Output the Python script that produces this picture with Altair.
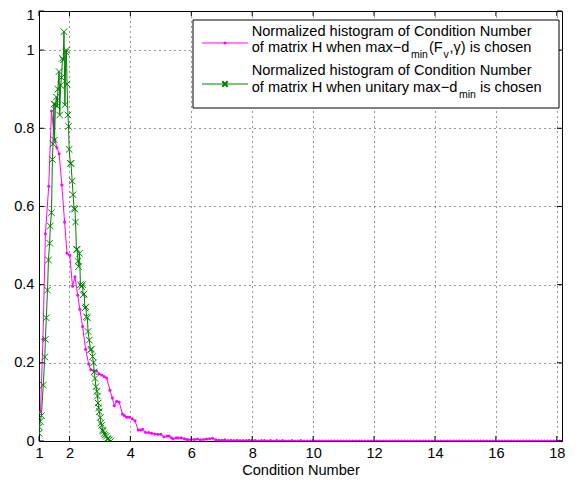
import altair as alt
import pandas as pd

# ---------------- data ----------------
mag_x = [1.05, 1.13, 1.21, 1.32, 1.41, 1.52, 1.59, 1.66, 1.75, 1.84, 1.92, 2.01, 2.10, 2.18,
         2.27, 2.34, 2.43, 2.53, 2.63, 2.70, 2.80, 2.89, 2.97, 3.06, 3.14, 3.22, 3.33, 3.41,
         3.47, 3.55, 3.63, 3.74, 3.80, 3.88, 3.97, 4.06, 4.15, 4.26, 4.33, 4.40, 4.50, 4.60,
         4.70, 4.80, 4.90, 5.00, 5.10, 5.20, 5.27, 5.35, 5.40, 5.50, 5.57, 5.67, 5.77, 5.85,
         5.90, 6.00, 6.10]
mag_y = [0.075, 0.26, 0.53, 0.652, 0.844, 0.77, 0.75, 0.735, 0.655, 0.56, 0.48, 0.475, 0.396, 0.42,
         0.373, 0.337, 0.293, 0.235, 0.197, 0.182, 0.18, 0.179, 0.172, 0.169, 0.165, 0.161, 0.13, 0.11,
         0.09, 0.102, 0.10, 0.069, 0.065, 0.061, 0.061, 0.057, 0.052, 0.028, 0.028, 0.030, 0.022, 0.022,
         0.020, 0.018, 0.017, 0.017, 0.011, 0.013, 0.013, 0.008, 0.005, 0.008, 0.008, 0.008, 0.006, 0.004,
         0.003, 0.004, 0.004]

tail_x = [6.2, 6.3, 6.4, 6.5, 6.6, 6.7, 6.8, 6.9, 7.0, 7.1, 7.2, 7.3, 7.4, 7.5, 7.6, 7.7, 7.8, 7.9,
          8.0, 8.1, 8.2, 8.3, 8.4, 8.5, 8.6, 8.7, 8.8, 8.9, 9.0, 9.1, 9.2, 9.3, 9.4, 9.5, 9.6, 9.7,
          9.8, 9.9, 10.0, 10.1, 10.2, 10.3, 10.4, 10.5, 10.6, 10.7, 10.8, 10.9, 11.0, 11.1, 11.2, 11.3,
          11.4, 11.5, 11.6, 11.7, 11.8, 11.9, 12.0, 12.1, 12.2, 12.3, 12.4, 12.5, 12.6, 12.7, 12.8,
          12.9, 13.0, 13.1, 13.2, 13.3, 13.4, 13.5, 13.6, 13.7, 13.8, 13.9, 14.0, 14.1, 14.2, 14.3,
          14.4, 14.5, 14.6, 14.7, 14.8, 14.9, 15.0, 15.1, 15.2, 15.3, 15.4, 15.5, 15.6, 15.7, 15.8,
          15.9, 16.0, 16.1, 16.2, 16.3, 16.4, 16.5, 16.6, 16.7, 16.8, 16.9, 17.0, 17.1, 17.2, 17.3,
          17.4, 17.5, 17.6, 17.7, 17.8, 17.9, 18.0, 18.1, 18.2]
tail_y = [0.005, 0.003, 0.004, 0.005, 0.006, 0.007, 0.003, 0.002, 0.002, 0.003, 0.001, 0.002, 0.001,
          0.002, 0.001, 0.001, 0.001, 0.002, 0.001, 0.001, 0.0, 0.001, 0.001, 0.0, 0.001, 0.0, 0.001,
          0.0, 0.001, 0.0, 0.0, 0.001, 0.0, 0.0, 0.001, 0.0, 0.0, 0.0, 0.001, 0.0, 0.0, 0.0, 0.0, 0.0,
          0.0, 0.0, 0.0, 0.0, 0.0, 0.0, 0.0, 0.0, 0.0, 0.0, 0.0, 0.0, 0.0, 0.0, 0.0, 0.0, 0.0, 0.0,
          0.0, 0.0, 0.0, 0.0, 0.0, 0.0, 0.0, 0.0, 0.0, 0.0, 0.0, 0.0, 0.0, 0.0, 0.0, 0.0, 0.0, 0.0,
          0.0, 0.0, 0.0, 0.0, 0.0, 0.0, 0.0, 0.0, 0.0, 0.0, 0.0, 0.0, 0.0, 0.0, 0.0, 0.0, 0.0, 0.0,
          0.0, 0.0, 0.0, 0.0, 0.0, 0.0, 0.0, 0.0, 0.0, 0.0, 0.0, 0.0, 0.0, 0.0, 0.0, 0.0, 0.0, 0.0,
          0.0, 0.0, 0.0, 0.0, 0.0]

grn_x = [1.00, 1.01, 1.04, 1.08, 1.14, 1.19, 1.21, 1.24, 1.28, 1.31, 1.35, 1.37, 1.41, 1.44, 1.46,
         1.49, 1.51, 1.54, 1.57, 1.60, 1.62, 1.66, 1.68, 1.71, 1.74, 1.77, 1.80, 1.82, 1.85, 1.88,
         1.90, 1.92, 1.95, 1.97, 1.99, 2.03, 2.05, 2.09, 2.12, 2.15, 2.18, 2.20, 2.23, 2.25, 2.28,
         2.30, 2.33, 2.36, 2.40, 2.43, 2.45, 2.48, 2.51, 2.54, 2.56, 2.59, 2.61, 2.65, 2.69, 2.72,
         2.76, 2.79, 2.81, 2.84, 2.87, 2.90, 2.92, 2.94, 2.96, 2.98, 3.01, 3.03, 3.06, 3.09, 3.11,
         3.14, 3.17, 3.21, 3.24, 3.27, 3.31, 3.36]
grn_y = [0.020, 0.036, 0.050, 0.065, 0.143, 0.215, 0.260, 0.315, 0.386, 0.463, 0.506, 0.550, 0.584,
         0.720, 0.760, 0.862, 0.770, 0.860, 0.880, 0.857, 0.900, 0.945, 0.834, 0.910, 0.930, 0.979,
         0.975, 1.047, 0.860, 0.995, 1.000, 0.913, 0.834, 0.805, 0.746, 0.710, 0.710, 0.665, 0.630,
         0.595, 0.593, 0.560, 0.490, 0.490, 0.460, 0.446, 0.480, 0.400, 0.395, 0.400, 0.374, 0.376,
         0.340, 0.343, 0.318, 0.315, 0.280, 0.258, 0.233, 0.235, 0.216, 0.200, 0.177, 0.160, 0.139,
         0.127, 0.115, 0.097, 0.085, 0.075, 0.060, 0.046, 0.040, 0.028, 0.025, 0.019, 0.015, 0.012,
         0.006, 0.005, 0.003, 0.000]

x_ticks = [1, 2, 4, 6, 8, 10, 12, 14, 16, 18]
y_ticks = [0, 0.2, 0.4, 0.6, 0.8, 1, 1.1]

legend_line1 = "Normalized histogram of Condition Number"
legend_a2 = ["of matrix H when max\u2212d", "min", "(F", "v", ",\u03b3) is chosen"]
legend_b2 = ["of matrix H when unitary max\u2212d", "min", "is chosen"]

# ---------------- layout ----------------
W, H = 523, 430
FONT = "Liberation Sans"
FS = 14.6
MAG = "#ff00ff"
GRN = "#008000"

xs = alt.Scale(domain=[1, 18.17], nice=False, zero=False)
ys = alt.Scale(domain=[0, 1.1], nice=False, zero=False)
xa = alt.Axis(values=x_ticks, grid=True, ticks=False, domain=False, labelPadding=4,
              titlePadding=3, format="d", labelFlush=False, labelOverlap=False)
ya = alt.Axis(values=y_ticks, grid=True, ticks=False, domain=False, labelPadding=5,
              format="~g", labelFlush=False, labelOverlap=False,
              labelOffset={"condition": {"test": "datum.value > 1.05", "value": 4}, "value": 0})


def X(field):
    return alt.X(field, type="quantitative", scale=xs, axis=xa, title="Condition Number")


def Y(field):
    return alt.Y(field, type="quantitative", scale=ys, axis=ya, title=None)


mag = pd.DataFrame({"x": mag_x + tail_x, "y": mag_y + tail_y})
grn = pd.DataFrame({"x": grn_x, "y": grn_y})
xt = pd.DataFrame({"x": x_ticks})
yt = pd.DataFrame({"y": y_ticks})
one = pd.DataFrame({"a": [0]})

XSHAPE = "M-1,-1L1,1M-1,1L1,-1"

mag_line = alt.Chart(mag).mark_line(color=MAG, strokeWidth=1, clip=True).encode(x=X("x"), y=Y("y"))
mag_pts = alt.Chart(mag).mark_point(color=MAG, filled=True, size=9, opacity=1, clip=True).encode(
    x=X("x"), y=Y("y"))
grn_line = alt.Chart(grn).mark_line(color=GRN, strokeWidth=1, clip=True).encode(x=X("x"), y=Y("y"))
grn_pts = alt.Chart(grn).mark_point(color=GRN, shape=XSHAPE, filled=False, size=42, strokeWidth=1,
                                    opacity=1, clip=True).encode(x=X("x"), y=Y("y"))

tick_b = alt.Chart(xt).mark_rule(color="black").encode(x=X("x"), y=alt.value(H), y2=alt.value(H - 5))
tick_t = alt.Chart(xt).mark_rule(color="black").encode(x=X("x"), y=alt.value(0), y2=alt.value(5))
tick_l = alt.Chart(yt).mark_rule(color="black").encode(y=Y("y"), x=alt.value(0), x2=alt.value(5))
tick_r = alt.Chart(yt).mark_rule(color="black").encode(y=Y("y"), x=alt.value(W), x2=alt.value(W - 5))

# legend box
lg_box = alt.Chart(one).mark_rect(fill="white", stroke="black", strokeWidth=1).encode(
    x=alt.value(154), x2=alt.value(520), y=alt.value(9), y2=alt.value(97))
lg_l1 = alt.Chart(one).mark_rule(color=MAG, strokeWidth=1).encode(
    x=alt.value(163), x2=alt.value(209), y=alt.value(32))
lg_p1 = alt.Chart(one).mark_point(color=MAG, filled=True, size=9, opacity=1).encode(
    x=alt.value(186), y=alt.value(32))
lg_l2 = alt.Chart(one).mark_rule(color=GRN, strokeWidth=1).encode(
    x=alt.value(163), x2=alt.value(209), y=alt.value(73))
lg_p2 = alt.Chart(one).mark_point(color=GRN, shape=XSHAPE, filled=False, size=30, opacity=1).encode(
    x=alt.value(186), y=alt.value(73))


def txt(s, x, y, size=FS):
    return alt.Chart(one).mark_text(align="left", baseline="alphabetic", font=FONT, fontSize=size,
                                    color="black").encode(
        x=alt.value(x), y=alt.value(y), text=alt.value(s))


SUB = 10.5
tx = 212.7
lg_text = [
    txt(legend_line1, tx, 24.5),
    txt(legend_a2[0], tx, 41),
    txt(legend_a2[1], 372, 47, SUB),
    txt(legend_a2[2], 390, 41),
    txt(legend_a2[3], 404.5, 47, SUB),
    txt(legend_a2[4], 410.5, 41),
    txt(legend_line1, tx, 64),
    txt(legend_b2[0], tx, 80.5),
    txt(legend_b2[1], 420, 86.5, SUB),
    txt(legend_b2[2], 441, 80.5),
]

chart = alt.layer(
    mag_line, mag_pts, grn_line, grn_pts, tick_b, tick_t, tick_l, tick_r,
    lg_box, lg_l1, lg_p1, lg_l2, lg_p2, *lg_text
).properties(
    width=W, height=H,
    background="white",
    autosize=alt.AutoSizeParams(type="none"),
    padding={"left": 31, "top": 3, "right": 10, "bottom": 36},
).configure_view(
    stroke="black", strokeWidth=1
).configure_axis(
    labelFont=FONT, labelFontSize=FS, labelColor="black",
    titleFont=FONT, titleFontSize=FS, titleFontWeight="normal", titleColor="black",
    gridColor="black", gridDash=[1, 4], gridOpacity=0.8, gridWidth=1,
)

chart.save("out.html", embed_options={"renderer": "svg", "actions": False})
